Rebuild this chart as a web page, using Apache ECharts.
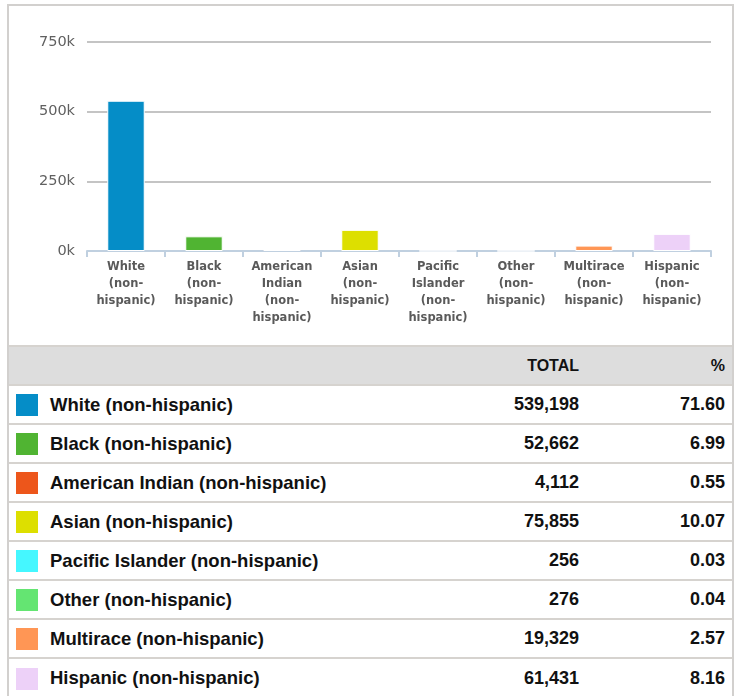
<!DOCTYPE html>
<html>
<head>
<meta charset="utf-8">
<script src="https://cdn.jsdelivr.net/npm/echarts@6/dist/echarts.min.js"></script>
<style>
  html, body { margin: 0; padding: 0; background: #fff; width: 743px; height: 696px; overflow: hidden; }
  #chart { position: absolute; left: 0; top: 0; width: 743px; height: 345px; }
  #frame { position: absolute; left: 7px; top: 4px; width: 727px; height: 720px; box-sizing: border-box;
           border-left: 2px solid #d2d0ce; border-right: 2px solid #d2d0ce; border-top: 2px solid #d2d0ce; pointer-events: none; }
  #tbl { position: absolute; left: 9px; top: 345px; width: 723px; border-collapse: collapse; table-layout: fixed;
         font-family: "Liberation Sans", Arial, sans-serif; font-weight: bold; color: #111; }
  #tbl td { border-top: 2px solid #d6d3cf; height: 39px; padding: 0; vertical-align: middle; box-sizing: border-box; white-space: nowrap; }
  #tbl tr.head td { background: #dddddd; font-size: 16px; }
  #tbl tr.row td { font-size: 18px; }
  #tbl tr.row td.name { font-size: 18.5px; }
  #tbl td.num { text-align: right; }
  #tbl td.pct { text-align: right; padding-right: 7px; }
  .sw { display: inline-block; width: 22px; height: 22px; vertical-align: middle; margin-left: 7px; margin-right: 12px; }
  .nm { vertical-align: middle; }
</style>
</head>
<body>
<div id="chart"></div>
<table id="tbl">
  <colgroup><col style="width:421px"><col style="width:149px"><col style="width:153px"></colgroup>
  <tbody id="tb"></tbody>
</table>
<div id="frame"></div>
<script>
// ---- data ----
var categories = [
  "White (non-hispanic)", "Black (non-hispanic)", "American Indian (non-hispanic)", "Asian (non-hispanic)",
  "Pacific Islander (non-hispanic)", "Other (non-hispanic)", "Multirace (non-hispanic)", "Hispanic (non-hispanic)"
];
var axisLabels = [
  "White\n(non-\nhispanic)", "Black\n(non-\nhispanic)", "American\nIndian\n(non-\nhispanic)", "Asian\n(non-\nhispanic)",
  "Pacific\nIslander\n(non-\nhispanic)", "Other\n(non-\nhispanic)", "Multirace\n(non-\nhispanic)", "Hispanic\n(non-\nhispanic)"
];
var totals = [539198, 52662, 4112, 75855, 256, 276, 19329, 61431];
var percents = ["71.60", "6.99", "0.55", "10.07", "0.03", "0.04", "2.57", "8.16"];
var colors = ["#058DC7", "#50B432", "#ED561B", "#DDDF00", "#45F7FF", "#64E572", "#FF9655", "#EDD1F8"];
var yTicks = [0, 250000, 500000, 750000];
var headerLabels = ["", "TOTAL", "%"];

// ---- chart ----
var chart = echarts.init(document.getElementById('chart'), null, { renderer: 'canvas' });
chart.setOption({
  animation: false,
  grid: { left: 87, right: 32, top: 42, height: 209 },
  xAxis: {
    type: 'category',
    data: axisLabels,
    boundaryGap: true,
    axisLine: { show: true, lineStyle: { color: '#C0D0E0', width: 2 } },
    axisTick: { show: true, length: 6, lineStyle: { color: '#C0D0E0', width: 2 } },
    axisLabel: {
      interval: 0, margin: 8, color: '#5a5a5a', fontFamily: 'DejaVu Sans', fontWeight: 'bold',
      fontSize: 11.5, lineHeight: 17, align: 'center', verticalAlign: 'top'
    },
    splitLine: { show: false }
  },
  yAxis: {
    type: 'value',
    min: yTicks[0], max: yTicks[yTicks.length - 1], interval: yTicks[1] - yTicks[0],
    axisLine: { show: false }, axisTick: { show: false },
    axisLabel: {
      margin: 12, color: '#606060', fontFamily: 'DejaVu Sans', fontSize: 14.5,
      formatter: function (v) { return (v / 1000) + 'k'; }
    },
    splitLine: { lineStyle: { color: '#c4c4c4', width: 2 } }
  },
  series: [{
    type: 'bar',
    data: totals.map(function (v, i) { return { value: v, itemStyle: { color: colors[i] } }; }),
    barWidth: '48%',
    itemStyle: { borderColor: '#ffffff', borderWidth: 1 }
  }]
});

// ---- table ----
var tb = document.getElementById('tb');
var h = document.createElement('tr'); h.className = 'head';
headerLabels.forEach(function (t, i) {
  var td = document.createElement('td');
  td.textContent = t;
  td.className = i === 1 ? 'num' : (i === 2 ? 'pct' : '');
  h.appendChild(td);
});
tb.appendChild(h);
categories.forEach(function (c, i) {
  var tr = document.createElement('tr'); tr.className = 'row';
  var td0 = document.createElement('td'); td0.className = 'name';
  var sw = document.createElement('span'); sw.className = 'sw'; sw.style.background = colors[i];
  var nm = document.createElement('span'); nm.className = 'nm'; nm.textContent = c;
  td0.appendChild(sw); td0.appendChild(nm);
  var td1 = document.createElement('td'); td1.className = 'num'; td1.textContent = totals[i].toLocaleString('en-US');
  var td2 = document.createElement('td'); td2.className = 'pct'; td2.textContent = percents[i];
  tr.appendChild(td0); tr.appendChild(td1); tr.appendChild(td2);
  tb.appendChild(tr);
});
</script>
</body>
</html>
